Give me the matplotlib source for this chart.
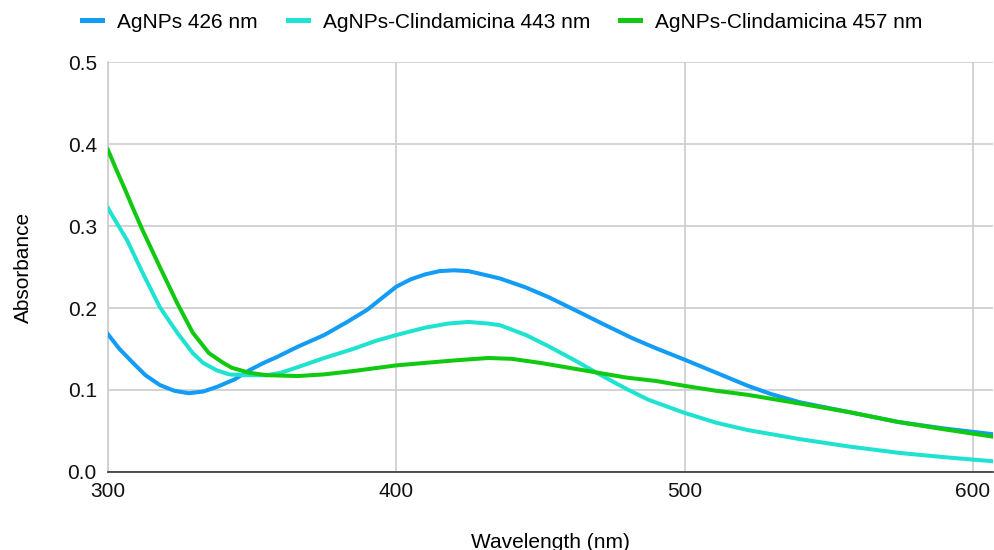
import matplotlib
matplotlib.use("Agg")
import matplotlib.pyplot as plt
from matplotlib.ticker import FormatStrFormatter

# AgNPs 426 nm
wl_ag = [300, 304, 308.7, 313, 318, 323, 328, 333, 338, 344, 349, 354, 358.5, 366,
         375, 383, 390, 395, 400, 405, 410, 415, 420, 425, 430, 436, 445, 453, 464,
         472, 482, 490, 500, 511, 522, 530, 540, 557, 574, 590, 607]
abs_ag = [0.168, 0.150, 0.133, 0.118, 0.106, 0.099, 0.096, 0.098, 0.104, 0.113, 0.124,
          0.133, 0.140, 0.153, 0.167, 0.183, 0.198, 0.212, 0.226, 0.235, 0.241, 0.245,
          0.246, 0.245, 0.241, 0.236, 0.225, 0.213, 0.194, 0.180, 0.163, 0.151, 0.137,
          0.121, 0.105, 0.095, 0.085, 0.073, 0.061, 0.053, 0.046]

# AgNPs-Clindamicina 443 nm
wl_c443 = [300, 303, 306.6, 312, 318, 324, 329.4, 333, 337.7, 342, 347, 355, 360, 366,
           375, 385, 393, 400, 410, 418, 425, 432, 436, 445, 453, 462, 471, 480, 487.5,
           500, 511, 522, 540, 557, 575, 590, 607]
abs_c443 = [0.322, 0.304, 0.283, 0.243, 0.201, 0.170, 0.145, 0.133, 0.124, 0.119, 0.118,
            0.118, 0.121, 0.128, 0.139, 0.150, 0.160, 0.167, 0.176, 0.181, 0.183, 0.181,
            0.179, 0.167, 0.153, 0.136, 0.118, 0.101, 0.088, 0.072, 0.060, 0.051, 0.040,
            0.031, 0.023, 0.018, 0.013]

# AgNPs-Clindamicina 457 nm
wl_c457 = [300, 303, 306, 309, 312, 318, 324, 329.4, 335, 340, 343, 349, 355, 366, 375,
           385, 400, 410, 420, 432, 440, 450, 460, 470, 480, 490, 500, 511, 522, 539,
           557, 574, 590, 607]
abs_c457 = [0.393, 0.368, 0.344, 0.319, 0.295, 0.250, 0.206, 0.170, 0.145, 0.133, 0.127,
            0.121, 0.118, 0.117, 0.119, 0.123, 0.130, 0.133, 0.136, 0.139, 0.138, 0.133,
            0.127, 0.121, 0.115, 0.111, 0.105, 0.099, 0.094, 0.084, 0.073, 0.061, 0.052,
            0.043]

plt.rcParams.update({'font.family': ['Liberation Sans', 'DejaVu Sans'], 'font.size': 15})

fig = plt.figure(figsize=(9.95, 5.5), dpi=100)
ax = fig.add_axes([0.1085, 0.142, 0.8895, 0.745])

ax.plot(wl_ag, abs_ag, color='#129cf5', linewidth=2.9, label='AgNPs 426 nm', zorder=3)
ax.plot(wl_c443, abs_c443, color='#1fe3d0', linewidth=2.9, label='AgNPs-Clindamicina 443 nm', zorder=3)
ax.plot(wl_c457, abs_c457, color='#10c910', linewidth=2.9, label='AgNPs-Clindamicina 457 nm', zorder=3)

ax.set_xlim(300, 607)
ax.set_ylim(0, 0.5)
ax.set_xticks([300, 400, 500, 600])
ax.set_yticks([0.0, 0.1, 0.2, 0.3, 0.4, 0.5])
ax.yaxis.set_major_formatter(FormatStrFormatter('%.1f'))
ax.tick_params(axis='both', length=0, labelsize=15, colors='#111111')
ax.tick_params(axis='x', pad=7)
ax.tick_params(axis='y', pad=8)

ax.grid(True, color='#cccccc', linewidth=1.2)
ax.set_axisbelow(True)
for s in ['top', 'right']:
    ax.spines[s].set_visible(False)
ax.spines['left'].set_color('#cccccc')
ax.spines['left'].set_linewidth(1.2)
ax.spines['bottom'].set_color('#333333')
ax.spines['bottom'].set_linewidth(1.2)

ax.set_xlabel('Wavelength (nm)', fontsize=15, labelpad=23)
ax.set_ylabel('Absorbance', fontsize=15, labelpad=25)

leg = fig.legend(loc='center', bbox_to_anchor=(0.505, 0.96), ncol=3, frameon=False,
                 handlelength=0.96, handletextpad=0.72, columnspacing=1.44, fontsize=15)
for h in leg.get_lines():
    h.set_linewidth(3.6)

fig.savefig('out.png', dpi=100)
